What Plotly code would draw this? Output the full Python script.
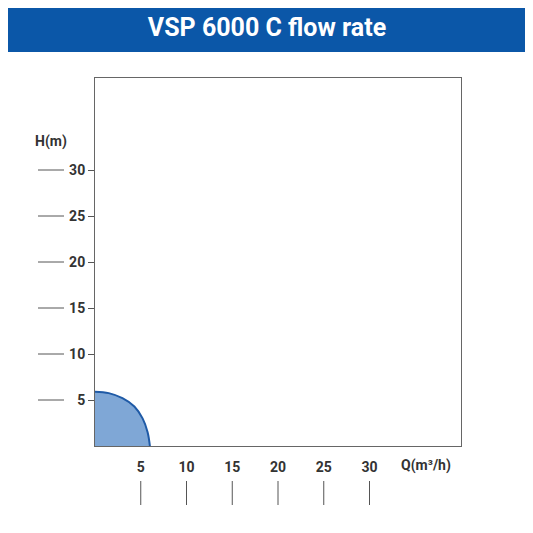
import plotly.graph_objects as go

curve_q = [0, 1.5, 3.0, 4.3, 5.2, 5.75, 6.0]
curve_h = [5.9, 5.75, 5.2, 4.3, 3.0, 1.5, 0]
x_ticks = [5, 10, 15, 20, 25, 30]
y_ticks = [5, 10, 15, 20, 25, 30]

W, H = 533, 533
off = 8
ml, mt = 95 - off, 78 - off
pw, ph = 366, 368
mr, mb = W - ml - pw, H - mt - ph

fig = go.Figure()
fig.add_trace(go.Scatter(x=curve_q, y=curve_h, mode="lines", line=dict(color="#1f5aa6", width=2, shape="spline"),
                         fill="tozeroy", fillcolor="#7fa7d6", hoverinfo="skip"))

shapes = [dict(type="rect", xref="paper", yref="paper", x0=-ml/pw, x1=1+mr/pw, y0=1+26/ph, y1=1+mt/ph,
               fillcolor="#0b57a8", line=dict(width=0), layer="below")]
for v in y_ticks:
    shapes.append(dict(type="line", xref="paper", yref="y", x0=(38-95)/pw, x1=(64-95)/pw, y0=v, y1=v,
                       line=dict(color="#555", width=1)))
for v in x_ticks:
    shapes.append(dict(type="line", xref="x", yref="paper", x0=v, x1=v, y0=-(481-446)/ph, y1=-(505-446)/ph,
                       line=dict(color="#555", width=1)))

fig.update_layout(
    width=W, height=H, margin=dict(l=ml, r=mr, t=mt, b=mb),
    paper_bgcolor="white", plot_bgcolor="white", showlegend=False,
    font=dict(family="Roboto", color="#333", size=14),
    title=dict(text="<b>VSP 6000 C flow rate</b>", x=(267-off)/W, xanchor="center", y=1-(27-off)/H, yanchor="middle",
               font=dict(color="white", size=25, family="Roboto")),
    shapes=shapes,
    annotations=[
        dict(text="<b>H(m)</b>", xref="paper", yref="paper", x=(33-95)/pw, y=1-(131-78)/ph, xanchor="left",
             showarrow=False, font=dict(size=14, color="#333")),
        dict(text="<b>Q(m³/h)</b>", xref="paper", yref="paper", x=(399-95)/pw, y=-(465-446)/ph, xanchor="left",
             yanchor="middle", showarrow=False, font=dict(size=14, color="#333")),
    ],
)
fig.update_xaxes(range=[0, 40], tickvals=x_ticks, ticktext=[f"<b>{v}</b>" for v in x_ticks], showgrid=False,
                 zeroline=False, showline=True, mirror=True, linecolor="#666", linewidth=1, ticks="", ticklabelstandoff=8)
fig.update_yaxes(range=[0, 40], tickvals=y_ticks, ticktext=[f"<b>{v}</b>" for v in y_ticks], showgrid=False,
                 zeroline=False, showline=True, mirror=True, linecolor="#666", linewidth=1, ticks="outside",
                 ticklen=6, tickcolor="#555")
fig.write_html("out.html")
